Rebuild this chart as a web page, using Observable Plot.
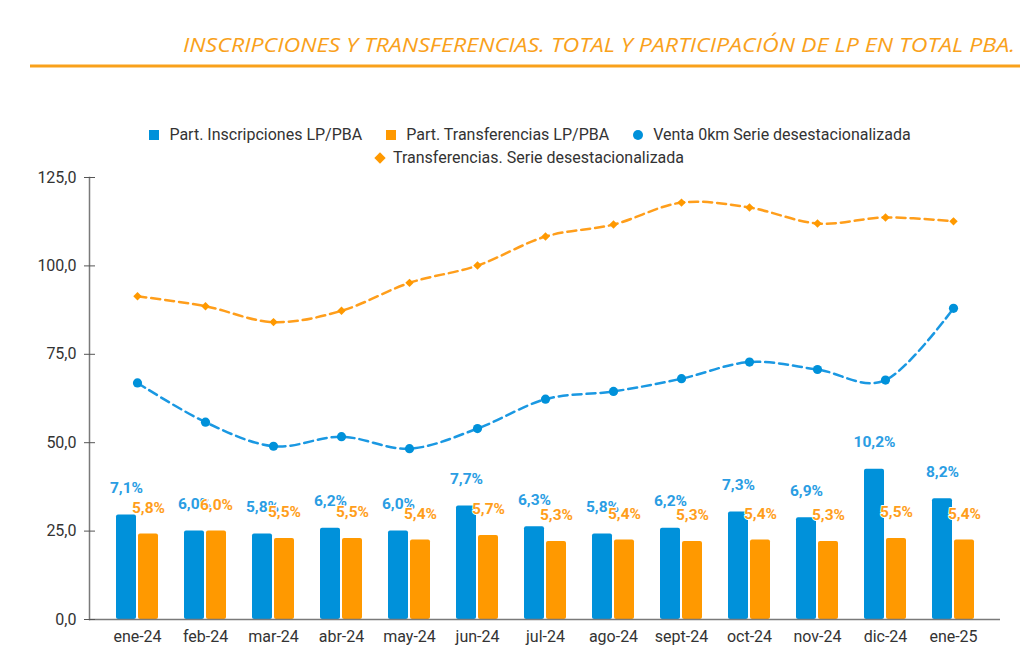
<!DOCTYPE html>
<html>
<head>
<meta charset="utf-8">
<script src="https://cdn.jsdelivr.net/npm/d3@7"></script>
<script src="https://cdn.jsdelivr.net/npm/@observablehq/plot@0.6"></script>
<style>
  html, body { margin: 0; padding: 0; background: #fff; }
  #wrap { position: relative; width: 1024px; height: 668px; overflow: hidden; font-family: Roboto, "Noto Sans", sans-serif; }
  #title { position: absolute; left: 0; top: 0; }
  #legend { position: absolute; left: 40px; top: 123px; width: 980px; color: #333; font-size: 16px; }
  .row { display: flex; justify-content: center; align-items: center; height: 23px; white-space: nowrap; }
  .item { display: flex; align-items: center; margin: 0 12px; }
  .sw { display: inline-block; width: 10px; height: 10px; margin-right: 10px; }
  .circ { border-radius: 50%; }
  .dia { width: 8px; height: 8px; transform: rotate(45deg); margin-right: 9px; }
  #chart { position: absolute; left: 0; top: 165px; }
</style>
</head>
<body>
<div id="wrap">
  <svg id="title" width="1024" height="80">
    <text x="1015" y="52" text-anchor="end" textLength="832" lengthAdjust="spacingAndGlyphs"
      font-family="'Open Sans', sans-serif" font-style="italic" font-size="20" fill="#F9A11B">INSCRIPCIONES Y TRANSFERENCIAS. TOTAL Y PARTICIPACIÓN DE LP EN TOTAL PBA.</text>
    <line x1="30" x2="1020" y1="66" y2="66" stroke="#F9A11B" stroke-width="3"></line>
  </svg>
  <div id="legend"></div>
  <div id="chart"></div>
</div>
<script>
// ---- Data ----
const months = ["ene-24","feb-24","mar-24","abr-24","may-24","jun-24","jul-24","ago-24","sept-24","oct-24","nov-24","dic-24","ene-25"];
// Participation (%) — plotted against a hidden secondary axis 0–30 %
const partInscripciones = [7.1, 6.0, 5.8, 6.2, 6.0, 7.7, 6.3, 5.8, 6.2, 7.3, 6.9, 10.2, 8.2];
const partTransferencias = [5.8, 6.0, 5.5, 5.5, 5.4, 5.7, 5.3, 5.4, 5.3, 5.4, 5.3, 5.5, 5.4];
// Index series (primary axis)
const venta0km = [66.9, 55.8, 49.0, 51.7, 48.3, 54.0, 62.3, 64.5, 68.1, 72.8, 70.7, 67.7, 88.0];
const transferencias = [91.4, 88.6, 84.1, 87.3, 95.2, 100.1, 108.3, 111.7, 117.9, 116.5, 112.0, 113.7, 112.6];
const yTicks = [0, 25, 50, 75, 100, 125];
const primaryDomain = [0, 125];
const secondaryDomain = [0, 30];

const seriesNames = ["Part. Inscripciones LP/PBA", "Part. Transferencias LP/PBA", "Venta 0km Serie desestacionalizada", "Transferencias. Serie desestacionalizada"];

const BLUE = "#0091DA", ORANGE = "#FF9900";
const BLUE_LABEL = "#2A9DE3", ORANGE_LABEL = "#FF9E1B";

// Secondary axis mapped onto primary
const toPrimary = d3.scaleLinear(secondaryDomain, primaryDomain);

const rows = months.map((m, i) => ({
  month: m,
  inscr: partInscripciones[i],
  transf: partTransferencias[i],
  venta: venta0km[i],
  transfIdx: transferencias[i]
}));

const fmt1 = d => d3.format(".1f")(d).replace(".", ",");
const fmtPct = d => fmt1(d) + "%";

// Legend
const legend = document.getElementById("legend");
legend.innerHTML = `
  <div class="row">
    <span class="item"><span class="sw" style="background:${BLUE}"></span>${seriesNames[0]}</span>
    <span class="item"><span class="sw" style="background:${ORANGE}"></span>${seriesNames[1]}</span>
    <span class="item"><span class="sw circ" style="background:${BLUE}"></span>${seriesNames[2]}</span>
  </div>
  <div class="row">
    <span class="item"><span class="sw dia" style="background:${ORANGE}"></span>${seriesNames[3]}</span>
  </div>`;

const chart = Plot.plot({
  width: 1024,
  height: 503,
  marginTop: 12,
  marginBottom: 49,
  marginLeft: 89,
  marginRight: 24,
  style: { fontFamily: "Roboto, sans-serif", fontSize: "16px", color: "#333", background: "transparent", overflow: "visible" },
  x: { domain: months, padding: 0, insetLeft: 13, insetRight: 13, label: null },
  y: { domain: primaryDomain, label: null },
  marks: [
    Plot.barY(rows, { x: "month", y: d => toPrimary(d.inscr), fill: BLUE, insetLeft: 13, insetRight: 35, rx: 2 }),
    Plot.barY(rows, { x: "month", y: d => toPrimary(d.transf), fill: ORANGE, insetLeft: 35, insetRight: 13, rx: 2 }),
    Plot.frame({ anchor: "left", stroke: "#7a7a7a", strokeWidth: 1.5 }),
    Plot.ruleY([0], { stroke: "#7a7a7a", strokeWidth: 1.5 }),
    Plot.axisY({ ticks: yTicks, tickSize: 11, dx: 6, tickPadding: 8, tickFormat: fmt1, stroke: "#555", fontSize: 16, fill: "#333" }),
    Plot.axisX({ tickSize: 0, tickPadding: 11, fontSize: 16, fill: "#333" }),
    Plot.line(rows, { x: "month", y: "transfIdx", stroke: ORANGE_LABEL, strokeWidth: 2.5, strokeDasharray: "9,5", curve: "cardinal" }),
    Plot.dot(rows, { x: "month", y: "transfIdx", symbol: "diamond2", r: 3.8, fill: ORANGE }),
    Plot.line(rows, { x: "month", y: "venta", stroke: "#1A98E2", strokeWidth: 2.5, strokeDasharray: "9,5", curve: "cardinal" }),
    Plot.dot(rows, { x: "month", y: "venta", r: 4.6, fill: BLUE }),
    Plot.text(rows, { x: "month", y: d => toPrimary(d.inscr), text: d => fmtPct(d.inscr), dx: -11, dy: -27, fill: BLUE_LABEL, fontWeight: "bold", fontSize: 15.5, stroke: "white", strokeWidth: 2 }),
    Plot.text(rows, { x: "month", y: d => toPrimary(d.transf), text: d => fmtPct(d.transf), dx: 11, dy: -26, fill: ORANGE_LABEL, fontWeight: "bold", fontSize: 15.5, stroke: "white", strokeWidth: 2 })
  ]
});
document.getElementById("chart").appendChild(chart);
</script>
</body>
</html>
